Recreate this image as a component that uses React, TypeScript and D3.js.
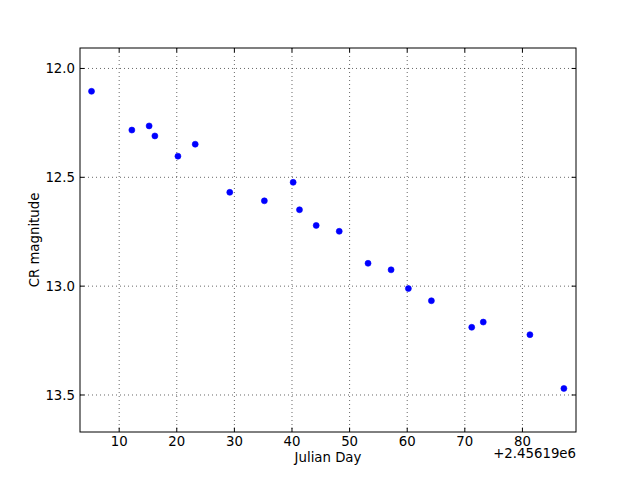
import React from "react";
import * as d3 from "d3";

// Julian Day offsets from 2456190 and CR magnitudes
const julianDays = [
  5.2, 12.2, 15.2, 16.2, 20.2, 23.2, 29.2, 35.2, 40.2, 41.3,
  44.2, 48.2, 53.2, 57.2, 60.2, 64.2, 71.2, 73.2, 81.3, 87.2,
];
const magnitudes = [
  12.105, 12.283, 12.264, 12.31, 12.403, 12.348, 12.569, 12.608, 12.523, 12.649,
  12.721, 12.748, 12.895, 12.925, 13.011, 13.067, 13.189, 13.165, 13.223, 13.47,
];
const xTicks = [10, 20, 30, 40, 50, 60, 70, 80];
const yTicks = [12.0, 12.5, 13.0, 13.5];

const W = 640;
const H = 480;
const margin = { top: 48, right: 64, bottom: 48, left: 80 };
const font = "DejaVu Sans, sans-serif";

export default function App() {
  const x = d3
    .scaleLinear()
    .domain([3.2, 89.3])
    .range([margin.left, W - margin.right]);
  const y = d3
    .scaleLinear()
    .domain([11.906, 13.67])
    .range([margin.top, H - margin.bottom]);

  const x0 = margin.left;
  const x1 = W - margin.right;
  const y0 = margin.top;
  const y1 = H - margin.bottom;
  const tick = 4.4;

  return (
    <svg
      width={W}
      height={H}
      style={{ position: "absolute", left: 0, top: 0, background: "#fff" }}
      fontFamily={font}
    >
      <rect x={0} y={0} width={W} height={H} fill="#fff" />
      {/* grid */}
      {xTicks.map((t) => (
        <line
          key={"gx" + t}
          x1={x(t)}
          x2={x(t)}
          y1={y0}
          y2={y1}
          stroke="#000"
          strokeWidth={0.6}
          strokeDasharray="1,3"
        />
      ))}
      {yTicks.map((t) => (
        <line
          key={"gy" + t}
          x1={x0}
          x2={x1}
          y1={y(t)}
          y2={y(t)}
          stroke="#000"
          strokeWidth={0.6}
          strokeDasharray="1,3"
        />
      ))}
      {/* points */}
      {julianDays.map((d, i) => (
        <circle
          key={i}
          cx={x(d)}
          cy={y(magnitudes[i])}
          r={3}
          fill="#0000ff"
          stroke="#0000ff"
          strokeWidth={0.6}
        />
      ))}
      {/* ticks */}
      {xTicks.map((t) => (
        <g key={"tx" + t}>
          <line x1={x(t)} x2={x(t)} y1={y1} y2={y1 - tick} stroke="#000" />
          <line x1={x(t)} x2={x(t)} y1={y0} y2={y0 + tick} stroke="#000" />
          <text
            x={x(t)}
            y={y1 + 14}
            fontSize={13.3}
            textAnchor="middle"
          >
            {t}
          </text>
        </g>
      ))}
      {yTicks.map((t) => (
        <g key={"ty" + t}>
          <line x1={x0} x2={x0 + tick} y1={y(t)} y2={y(t)} stroke="#000" />
          <line x1={x1} x2={x1 - tick} y1={y(t)} y2={y(t)} stroke="#000" />
          <text
            x={x0 - 5}
            y={y(t) + 5}
            fontSize={13.3}
            textAnchor="end"
          >
            {t.toFixed(1)}
          </text>
        </g>
      ))}
      <rect
        x={x0}
        y={y0}
        width={x1 - x0}
        height={y1 - y0}
        fill="none"
        stroke="#000"
        strokeWidth={1}
      />
      <text x={x1} y={y1 + 26} fontSize={13.3} textAnchor="end">
        +2.45619e6
      </text>
      <text
        x={(x0 + x1) / 2}
        y={y1 + 30}
        fontSize={13.3}
        textAnchor="middle"
      >
        Julian Day
      </text>
      <text
        transform={`translate(39, ${(y0 + y1) / 2}) rotate(-90)`}
        fontSize={13.3}
        textAnchor="middle"
      >
        CR magnitude
      </text>
    </svg>
  );
}
